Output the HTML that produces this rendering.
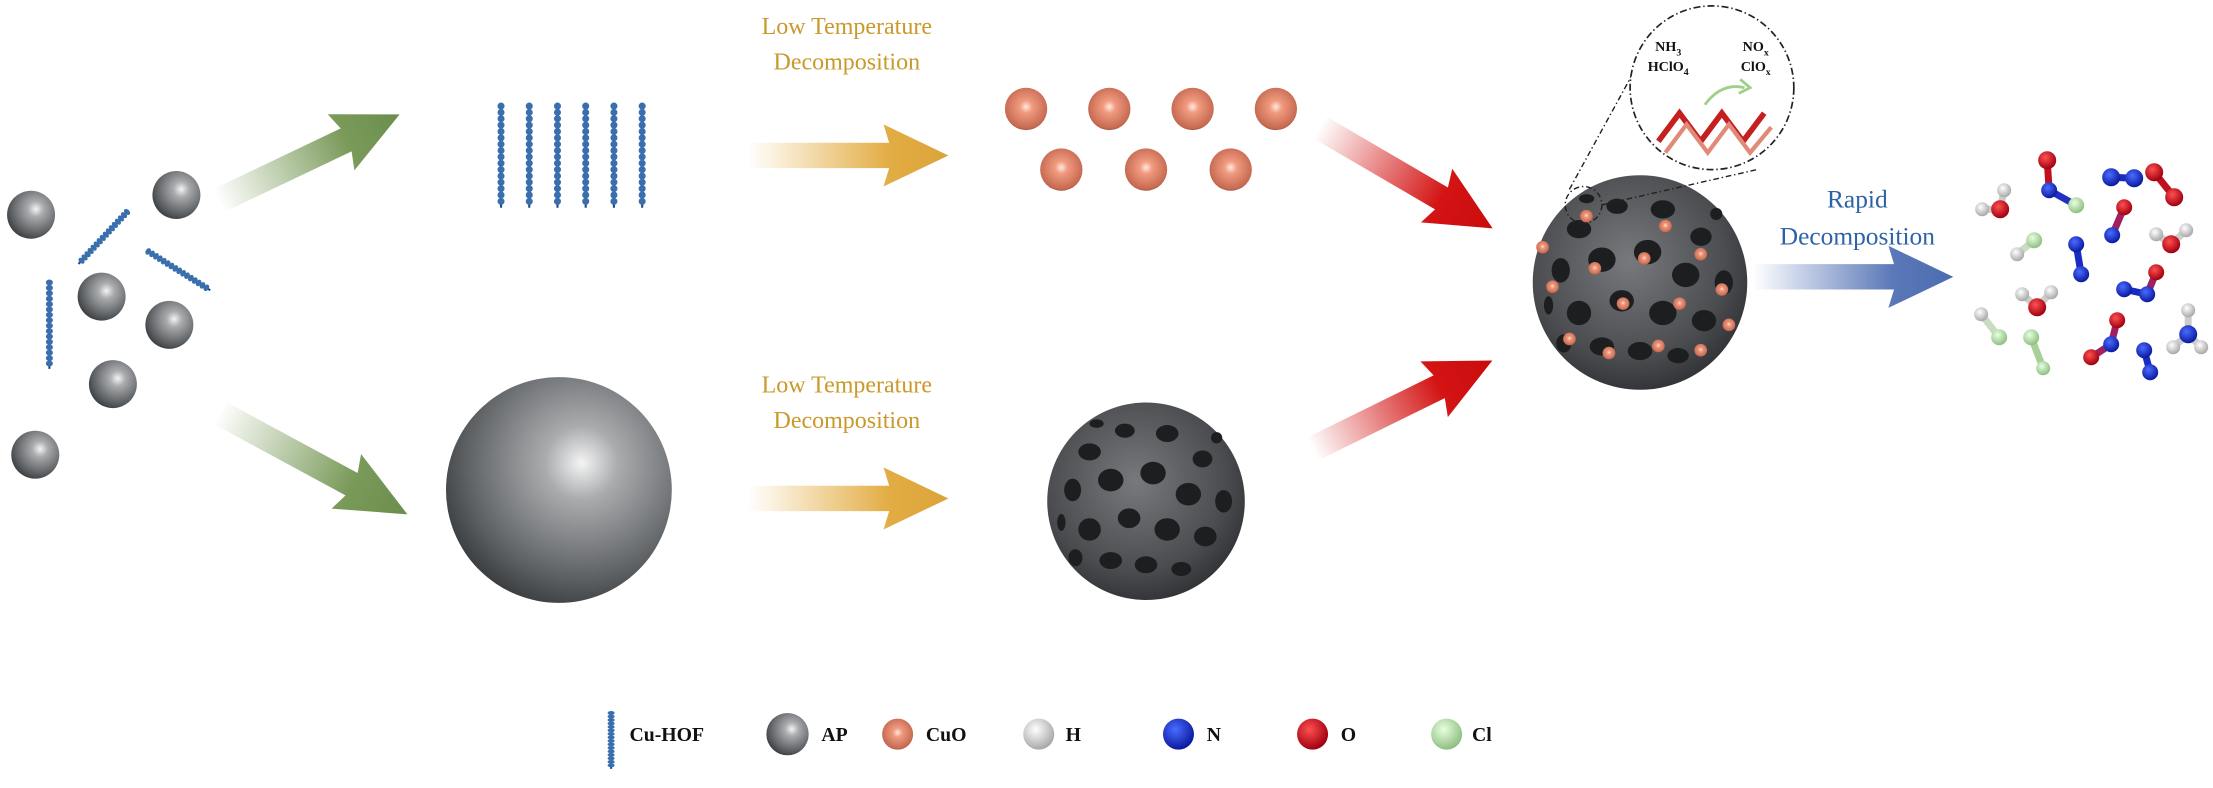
<!DOCTYPE html>
<html><head><meta charset="utf-8"><style>
html,body{margin:0;padding:0;background:#fff;}
svg{display:block;}
text{font-family:"Liberation Serif",serif;}
</style></head><body>
<svg width="2213" height="788" viewBox="0 0 1568 558" xmlns="http://www.w3.org/2000/svg">
<defs>
<radialGradient id="gray" cx="0.6" cy="0.38" r="0.65"><stop offset="0" stop-color="#f4f4f4"/><stop offset="0.25" stop-color="#a9abad"/><stop offset="0.8" stop-color="#5c5f62"/><stop offset="1" stop-color="#3d4043"/></radialGradient>
<radialGradient id="cuo" cx="0.5" cy="0.45" r="0.6"><stop offset="0" stop-color="#ffe9de"/><stop offset="0.25" stop-color="#f09a7e"/><stop offset="0.85" stop-color="#c66a52"/><stop offset="1" stop-color="#7a3a2c"/></radialGradient>
<radialGradient id="por" cx="0.45" cy="0.4" r="0.65"><stop offset="0" stop-color="#77797c"/><stop offset="0.7" stop-color="#4a4c50"/><stop offset="1" stop-color="#2c2e31"/></radialGradient>
<radialGradient id="hw" cx="0.4" cy="0.35" r="0.65"><stop offset="0" stop-color="#fff"/><stop offset="1" stop-color="#a8a8a8"/></radialGradient>
<radialGradient id="nb" cx="0.4" cy="0.35" r="0.65"><stop offset="0" stop-color="#4a6cff"/><stop offset="1" stop-color="#0a1aa0"/></radialGradient>
<radialGradient id="or" cx="0.4" cy="0.35" r="0.65"><stop offset="0" stop-color="#ff5050"/><stop offset="1" stop-color="#a00010"/></radialGradient>
<radialGradient id="clg" cx="0.4" cy="0.35" r="0.65"><stop offset="0" stop-color="#e8ffe0"/><stop offset="1" stop-color="#8fbf82"/></radialGradient>
<linearGradient id="gG" x1="0" x2="1" y1="0" y2="0"><stop offset="0" stop-color="#7a9a5a" stop-opacity="0"/><stop offset="0.7" stop-color="#7a9a5a"/><stop offset="1" stop-color="#6b8e4c"/></linearGradient>
<linearGradient id="gY" x1="0" x2="1" y1="0" y2="0"><stop offset="0" stop-color="#e6b04a" stop-opacity="0"/><stop offset="0.7" stop-color="#e3ad45"/><stop offset="1" stop-color="#dba43a"/></linearGradient>
<linearGradient id="gR" x1="0" x2="1" y1="0" y2="0"><stop offset="0" stop-color="#d21010" stop-opacity="0"/><stop offset="0.7" stop-color="#d41414"/><stop offset="1" stop-color="#c80c0c"/></linearGradient>
<linearGradient id="gB" x1="0" x2="1" y1="0" y2="0"><stop offset="0" stop-color="#5a78b8" stop-opacity="0"/><stop offset="0.7" stop-color="#5a78b8"/><stop offset="1" stop-color="#4d6cb0"/></linearGradient>
<path id="arr" d="M0,-9 L100,-9 L96,-22 L142,0 L96,22 L100,9 L0,9 Z"/>
<g id="chain"><line x1="0" y1="0" x2="0" y2="72" stroke="#1f4a80" stroke-width="1.5"/><line x1="0" y1="0" x2="0" y2="72" stroke="#3a6fae" stroke-width="5" stroke-dasharray="0 4.5" stroke-linecap="round"/></g>
<g id="holes">
<ellipse cx="-40" cy="-35" rx="8" ry="6" fill="#1d1e20"/><ellipse cx="-15" cy="-50" rx="7" ry="5" fill="#1d1e20"/><ellipse cx="15" cy="-48" rx="8" ry="6" fill="#1d1e20"/><ellipse cx="40" cy="-30" rx="7" ry="6" fill="#1d1e20"/>
<ellipse cx="-52" cy="-8" rx="6" ry="8" fill="#1d1e20"/><ellipse cx="-25" cy="-15" rx="9" ry="8" fill="#1d1e20"/><ellipse cx="5" cy="-20" rx="9" ry="8" fill="#1d1e20"/><ellipse cx="30" cy="-5" rx="9" ry="8" fill="#1d1e20"/><ellipse cx="55" cy="0" rx="6" ry="8" fill="#1d1e20"/>
<ellipse cx="-40" cy="20" rx="8" ry="8" fill="#1d1e20"/><ellipse cx="-12" cy="12" rx="8" ry="7" fill="#1d1e20"/><ellipse cx="15" cy="20" rx="9" ry="8" fill="#1d1e20"/><ellipse cx="42" cy="25" rx="8" ry="7" fill="#1d1e20"/>
<ellipse cx="-25" cy="42" rx="8" ry="6" fill="#1d1e20"/><ellipse cx="0" cy="45" rx="8" ry="6" fill="#1d1e20"/><ellipse cx="25" cy="48" rx="7" ry="5" fill="#1d1e20"/><ellipse cx="-50" cy="40" rx="5" ry="6" fill="#1d1e20"/>
<ellipse cx="-35" cy="-55" rx="5" ry="3" fill="#1d1e20"/><ellipse cx="50" cy="-45" rx="4" ry="4" fill="#1d1e20"/><ellipse cx="-60" cy="15" rx="3" ry="6" fill="#1d1e20"/>
</g>
</defs>

<circle cx="22" cy="152" r="17" fill="url(#gray)"/>
<circle cx="125" cy="138" r="17" fill="url(#gray)"/>
<circle cx="72" cy="210" r="17" fill="url(#gray)"/>
<circle cx="120" cy="230" r="17" fill="url(#gray)"/>
<circle cx="80" cy="272" r="17" fill="url(#gray)"/>
<circle cx="25" cy="322" r="17" fill="url(#gray)"/>
<use href="#chain" transform="translate(90,150) rotate(43) scale(1,0.7)"/>
<use href="#chain" transform="translate(105,178) rotate(-58) scale(1,0.72)"/>
<use href="#chain" transform="translate(35,200) scale(1,0.85)"/>

<use href="#arr" fill="url(#gG)" transform="translate(155,142) rotate(-25.5)"/>
<use href="#arr" fill="url(#gG)" transform="translate(155,292) rotate(28.4) scale(1.07,1)"/>

<use href="#chain" transform="translate(355,75)"/><use href="#chain" transform="translate(375,75)"/><use href="#chain" transform="translate(395,75)"/><use href="#chain" transform="translate(415,75)"/><use href="#chain" transform="translate(435,75)"/><use href="#chain" transform="translate(455,75)"/>

<g fill="#c9992b" font-size="17" text-anchor="middle">
<text x="600" y="24">Low Temperature</text><text x="600" y="49">Decomposition</text>
<text x="600" y="278">Low Temperature</text><text x="600" y="303">Decomposition</text>
</g>
<use href="#arr" fill="url(#gY)" transform="translate(530,110)"/>
<use href="#arr" fill="url(#gY)" transform="translate(530,353)"/>

<g fill="url(#cuo)">
<circle cx="727" cy="77" r="15"/><circle cx="786" cy="77" r="15"/><circle cx="845" cy="77" r="15"/><circle cx="904" cy="77" r="15"/>
<circle cx="752" cy="120" r="15"/><circle cx="812" cy="120" r="15"/><circle cx="872" cy="120" r="15"/>
</g>

<circle cx="396" cy="347" r="80" fill="url(#gray)"/>

<circle cx="812" cy="355" r="70" fill="url(#por)"/>
<use href="#holes" transform="translate(812,355)"/>

<use href="#arr" fill="url(#gR)" transform="translate(935,90) rotate(30.3)"/>
<use href="#arr" fill="url(#gR)" transform="translate(930,318) rotate(-26.2)"/>

<circle cx="1162" cy="200" r="76" fill="url(#por)"/>
<use href="#holes" transform="translate(1162,200) scale(1.08)"/>
<g fill="url(#cuo)">
<circle cx="1124" cy="153" r="4.5"/><circle cx="1180" cy="160" r="4.5"/><circle cx="1130" cy="190" r="4.5"/><circle cx="1165" cy="183" r="4.5"/><circle cx="1205" cy="180" r="4.5"/>
<circle cx="1100" cy="203" r="4.5"/><circle cx="1150" cy="215" r="4.5"/><circle cx="1190" cy="215" r="4.5"/><circle cx="1220" cy="205" r="4.5"/>
<circle cx="1112" cy="240" r="4.5"/><circle cx="1140" cy="250" r="4.5"/><circle cx="1175" cy="245" r="4.5"/><circle cx="1205" cy="248" r="4.5"/><circle cx="1225" cy="230" r="4.5"/><circle cx="1093" cy="175" r="4.5"/>
</g>
<circle cx="1122" cy="145" r="13" fill="none" stroke="#222" stroke-width="1" stroke-dasharray="4 2 1 2"/>
<line x1="1112" y1="134" x2="1158" y2="50" stroke="#222" stroke-width="1" stroke-dasharray="4 2 1 2"/>
<line x1="1135" y1="145" x2="1245" y2="120" stroke="#222" stroke-width="1" stroke-dasharray="4 2 1 2"/>
<circle cx="1213" cy="62" r="58" fill="#fff" stroke="#222" stroke-width="1.2" stroke-dasharray="5 2 1 2"/>
<g font-size="10" font-weight="bold" fill="#111" text-anchor="middle">
<text x="1182" y="36">NH<tspan font-size="7" dy="3">3</tspan></text>
<text x="1182" y="50">HClO<tspan font-size="7" dy="3">4</tspan></text>
<text x="1244" y="36">NO<tspan font-size="7" dy="3">x</tspan></text>
<text x="1244" y="50">ClO<tspan font-size="7" dy="3">x</tspan></text>
</g>
<path d="M1208,74 Q1220,58 1236,62" fill="none" stroke="#9fcf8a" stroke-width="2"/>
<path d="M1233,56 L1240,62 L1232,66" fill="none" stroke="#9fcf8a" stroke-width="2"/>
<g stroke="#c42020" stroke-width="4" fill="none">
<path d="M1175,100 L1190,80 L1205,100 L1220,80 L1235,100 L1250,80"/>
</g>
<g stroke="#e08a7a" stroke-width="3" fill="none">
<path d="M1180,108 L1195,88 L1210,108 L1225,88 L1240,108 L1255,90"/>
</g>

<g fill="#2d63a6" font-size="18" text-anchor="middle">
<text x="1316" y="147">Rapid</text><text x="1316" y="173">Decomposition</text>
</g>
<use href="#arr" fill="url(#gB)" transform="translate(1242,196)"/>

<g transform="scale(0.7086)">
<g stroke-width="7" stroke-linecap="round">
<line x1="2000" y1="209" x2="1982" y2="209" stroke="#ccc"/><line x1="2000" y1="209" x2="2004" y2="190" stroke="#ccc"/>
<line x1="2047" y1="160" x2="2049" y2="190" stroke="#c01020"/><line x1="2049" y1="190" x2="2076" y2="205" stroke="#2030c0"/>
<line x1="2111" y1="177" x2="2134" y2="178" stroke="#1a2cc0"/>
<line x1="2154" y1="172" x2="2174" y2="197" stroke="#c01020"/>
<line x1="2124" y1="207" x2="2112" y2="235" stroke="#a02060"/>
<line x1="2171" y1="244" x2="2156" y2="234" stroke="#ccc"/><line x1="2171" y1="244" x2="2186" y2="230" stroke="#ccc"/>
<line x1="2034" y1="240" x2="2017" y2="254" stroke="#c8dcc0"/>
<line x1="2076" y1="244" x2="2081" y2="274" stroke="#1a2cc0"/>
<line x1="2124" y1="289" x2="2147" y2="294" stroke="#1a2cc0"/><line x1="2147" y1="294" x2="2156" y2="272" stroke="#a02060"/>
<line x1="2037" y1="307" x2="2022" y2="294" stroke="#ccc"/><line x1="2037" y1="307" x2="2051" y2="292" stroke="#ccc"/>
<line x1="1981" y1="314" x2="1999" y2="337" stroke="#c8dcc0"/>
<line x1="2031" y1="337" x2="2043" y2="368" stroke="#a8d098"/>
<line x1="2117" y1="320" x2="2111" y2="344" stroke="#a02060"/><line x1="2111" y1="344" x2="2091" y2="357" stroke="#a02060"/>
<line x1="2188" y1="334" x2="2188" y2="310" stroke="#ccc"/><line x1="2188" y1="334" x2="2173" y2="347" stroke="#ccc"/><line x1="2188" y1="334" x2="2201" y2="347" stroke="#ccc"/>
<line x1="2144" y1="350" x2="2150" y2="372" stroke="#1a2cc0"/>
</g>
<g>
<circle cx="1982" cy="209" r="7" fill="url(#hw)"/><circle cx="2004" cy="190" r="7" fill="url(#hw)"/><circle cx="2000" cy="209" r="9" fill="url(#or)"/>
<circle cx="2047" cy="160" r="9" fill="url(#or)"/><circle cx="2049" cy="190" r="8" fill="url(#nb)"/><circle cx="2076" cy="205" r="8" fill="url(#clg)"/>
<circle cx="2111" cy="177" r="9" fill="url(#nb)"/><circle cx="2134" cy="178" r="9" fill="url(#nb)"/>
<circle cx="2154" cy="172" r="9" fill="url(#or)"/><circle cx="2174" cy="197" r="9" fill="url(#or)"/>
<circle cx="2124" cy="207" r="8" fill="url(#or)"/><circle cx="2112" cy="235" r="8" fill="url(#nb)"/>
<circle cx="2156" cy="234" r="7" fill="url(#hw)"/><circle cx="2186" cy="230" r="7" fill="url(#hw)"/><circle cx="2171" cy="244" r="9" fill="url(#or)"/>
<circle cx="2034" cy="240" r="8" fill="url(#clg)"/><circle cx="2017" cy="254" r="7" fill="url(#hw)"/>
<circle cx="2076" cy="244" r="8" fill="url(#nb)"/><circle cx="2081" cy="274" r="8" fill="url(#nb)"/>
<circle cx="2124" cy="289" r="8" fill="url(#nb)"/><circle cx="2147" cy="294" r="8" fill="url(#nb)"/><circle cx="2156" cy="272" r="8" fill="url(#or)"/>
<circle cx="2022" cy="294" r="7" fill="url(#hw)"/><circle cx="2051" cy="292" r="7" fill="url(#hw)"/><circle cx="2037" cy="307" r="9" fill="url(#or)"/>
<circle cx="1981" cy="314" r="7" fill="url(#hw)"/><circle cx="1999" cy="337" r="8" fill="url(#clg)"/>
<circle cx="2031" cy="337" r="8" fill="url(#clg)"/><circle cx="2043" cy="368" r="7" fill="url(#clg)"/>
<circle cx="2117" cy="320" r="8" fill="url(#or)"/><circle cx="2111" cy="344" r="8" fill="url(#nb)"/><circle cx="2091" cy="357" r="8" fill="url(#or)"/>
<circle cx="2188" cy="310" r="7" fill="url(#hw)"/><circle cx="2173" cy="347" r="7" fill="url(#hw)"/><circle cx="2201" cy="347" r="7" fill="url(#hw)"/><circle cx="2188" cy="334" r="9" fill="url(#nb)"/>
<circle cx="2144" cy="350" r="8" fill="url(#nb)"/><circle cx="2150" cy="372" r="8" fill="url(#nb)"/>
</g>
</g>

<use href="#chain" transform="translate(433,505) scale(1,0.55)"/>
<g font-size="14" font-weight="bold" fill="#111">
<text x="446" y="525">Cu-HOF</text>
<circle cx="558" cy="520" r="15" fill="url(#gray)"/><text x="582" y="525">AP</text>
<circle cx="636" cy="520" r="11" fill="url(#cuo)"/><text x="656" y="525">CuO</text>
<circle cx="736" cy="520" r="11" fill="url(#hw)"/><text x="755" y="525">H</text>
<circle cx="835" cy="520" r="11" fill="url(#nb)"/><text x="855" y="525">N</text>
<circle cx="930" cy="520" r="11" fill="url(#or)"/><text x="950" y="525">O</text>
<circle cx="1025" cy="520" r="11" fill="url(#clg)"/><text x="1043" y="525">Cl</text>
</g>
</svg>
</body></html>
